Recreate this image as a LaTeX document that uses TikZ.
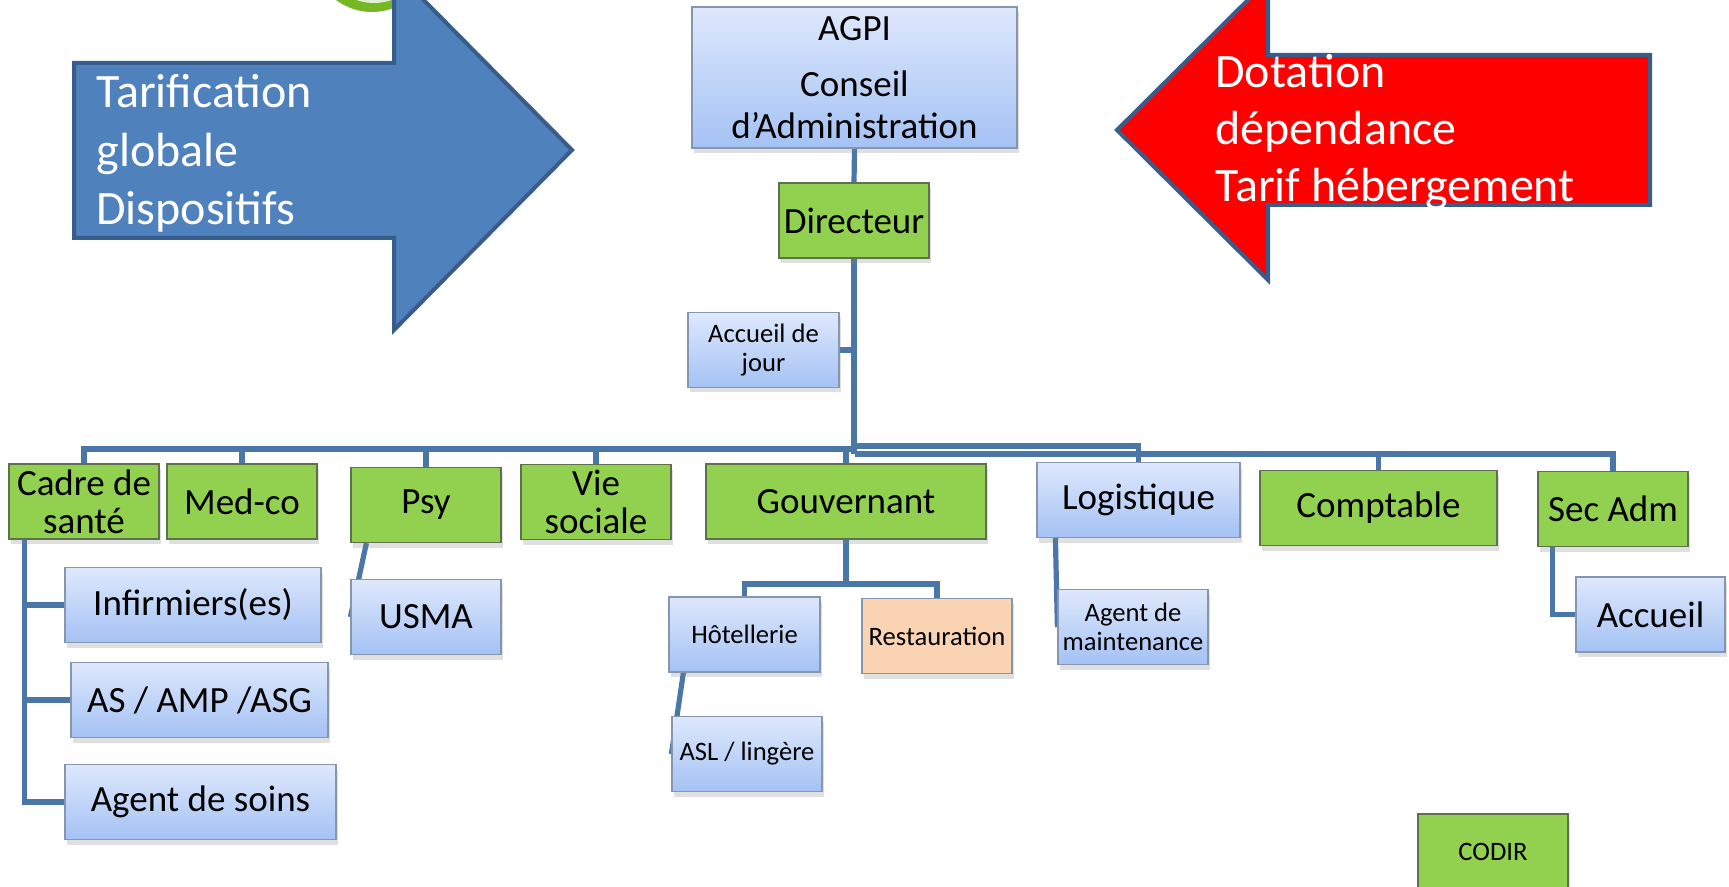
\documentclass[tikz,border=0pt]{standalone}
\usepackage{fontspec}
\setmainfont{Carlito}
\usepackage{tikz}
\usetikzlibrary{positioning, shadows}

\pgfdeclarelayer{background}
\pgfsetlayers{background,main}

\definecolor{orgline}{RGB}{74,118,168}
\definecolor{greenfill}{RGB}{146,208,80}
\definecolor{greenedge}{RGB}{95,112,78}
\definecolor{bluetop}{RGB}{222,232,252}
\definecolor{bluebot}{RGB}{164,194,244}
\definecolor{blueedge}{RGB}{135,150,175}
\definecolor{peach}{RGB}{250,211,178}
\definecolor{arrowblue}{RGB}{79,129,189}
\definecolor{arrowedge}{RGB}{56,93,138}
\definecolor{ringgreen}{RGB}{118,184,36}
\definecolor{ringin}{RGB}{225,238,215}

\begin{document}
\begin{tikzpicture}[x=0.5pt,y=0.5pt,yscale=-1,xscale=1,
    box/.style={rectangle, inner sep=0pt, align=center, minimum height=37.5pt,
        drop shadow={shadow xshift=1pt, shadow yshift=-2.5pt, opacity=0.25}},
    greenbox/.style={box, draw=greenedge, fill=greenfill, line width=0.6pt},
    bluebox/.style={box, draw=blueedge, top color=bluetop, bottom color=bluebot, line width=0.6pt},
    peachbox/.style={box, draw=blueedge, fill=peach, line width=0.6pt},
    bigtxt/.style={font=\fontsize{18.5}{19}\selectfont},
    smalltxt/.style={font=\fontsize{13.3}{14.5}\selectfont},
    link/.style={draw=orgline, line width=2.6pt},
    arrowtxt/.style={anchor=base west, inner sep=0pt, text=white, font=\fontsize{24}{29}\selectfont}]
    \useasboundingbox (0,0) rectangle (1729,887);

    %Shape: Circle (behind the arrow)
    \fill [ringgreen] (372,-48) circle (60);
    \fill [ringin] (374,-50) circle (53);

    %Shape: Right Arrow
    \draw [fill=arrowblue, draw=arrowedge, line width=2pt] (74,63) -- (394,63) -- (394,-30) -- (572,150) -- (394,330) -- (394,238) -- (74,238) -- cycle;
    %Shape: Left Arrow
    \draw [fill=red, draw=arrowedge, line width=2pt] (1117,130) -- (1268,-20) -- (1268,55) -- (1650,55) -- (1650,205) -- (1268,205) -- (1268,280) -- cycle;

    % Text Node
    \node [arrowtxt] (tarif) at (96,108) {Tarification};
    \node [arrowtxt] (glob) at (96,167) {globale};
    \node [arrowtxt] (dispo) at (96,225) {Dispositifs};
    % Text Node
    \node [arrowtxt] (dota) at (1215,88) {Dotation};
    \node [arrowtxt] (depen) at (1215,145) {dépendance};
    \node [arrowtxt] (heber) at (1215,202) {Tarif hébergement};

    % Boxes
    \node [bluebox, font=\fontsize{18.5}{21}\selectfont, minimum width=162.5pt, minimum height=70.5pt] (agpi) at (854.5,77.5) {AGPI\\[7pt]Conseil\\d’Administration};
    \node [greenbox, bigtxt, minimum width=75pt] (dir) at (854,220.5) {Directeur};
    \node [bluebox, smalltxt, minimum width=75.5pt] (jour) at (763.5,350) {Accueil de\\jour};

    \node [greenbox, bigtxt, minimum width=75pt] (cadre) at (84,501.5) {Cadre de\\santé};
    \node [greenbox, bigtxt, minimum width=75pt] (medco) at (242,501.5) {Med-co};
    \node [greenbox, bigtxt, minimum width=75pt] (psy) at (426,505) {Psy};
    \node [greenbox, bigtxt, minimum width=75pt] (vie) at (596,502) {Vie\\sociale};
    \node [greenbox, bigtxt, minimum width=140pt] (gouv) at (846,501.5) {Gouvernant};
    \node [bluebox, bigtxt, minimum width=101.5pt] (logist) at (1138.5,500) {Logistique};
    \node [greenbox, bigtxt, minimum width=118.5pt] (compta) at (1378.5,508) {Comptable};
    \node [greenbox, bigtxt, minimum width=75pt] (secadm) at (1613,509) {Sec Adm};

    \node [bluebox, bigtxt, minimum width=128pt] (infirm) at (193,605) {Infirmiers(es)};
    \node [bluebox, bigtxt, minimum width=128.5pt] (asamp) at (199.5,700) {AS / AMP /ASG};
    \node [bluebox, bigtxt, minimum width=135.5pt] (soins) at (200.5,802) {Agent de soins};
    \node [bluebox, bigtxt, minimum width=75pt] (usma) at (426,617) {USMA};
    \node [bluebox, smalltxt, minimum width=75.5pt] (hotel) at (744.5,634.5) {Hôtellerie};
    \node [peachbox, smalltxt, minimum width=75pt] (resto) at (937,636) {Restauration};
    \node [bluebox, smalltxt, minimum width=75pt] (asl) at (747,754) {ASL / lingère};
    \node [bluebox, smalltxt, minimum width=75pt] (maint) at (1133,627) {Agent de\\maintenance};
    \node [bluebox, bigtxt, minimum width=74.5pt] (accueil) at (1650.5,614.5) {Accueil};
    \node [greenbox, smalltxt, minimum width=75pt] (codir) at (1493,851.5) {CODIR};

    % Connectors
    \coordinate (busl) at (855,449);
    \coordinate (busa) at (855,446);
    \coordinate (busb) at (855,454);
    \coordinate (gfork) at (846,584);
    \coordinate (spine) at ([xshift=8pt]cadre.south west);
    \begin{pgfonlayer}{background}
        \draw [link] (agpi.south) -- (dir.north);
        \draw [link] (dir.south) -- (dir.south |- busb);
        \draw [link] (jour.east) -- (jour.east -| dir.south);
        %Straight Lines
        \draw [link] (cadre.north) |- (busl);
        \draw [link] (medco.north) -- (medco.north |- busl);
        \draw [link] (psy.north) -- (psy.north |- busl);
        \draw [link] (vie.north) -- (vie.north |- busl);
        \draw [link] (gouv.north) -- (gouv.north |- busl);
        \draw [link] (logist.north) |- (busa);
        \draw [link] (secadm.north) |- (busb);
        \draw [link] (compta.north) -- (compta.north |- busb);
        %Straight Lines
        \draw [link] (spine) |- (soins.west);
        \draw [link] (infirm.west) -- (infirm.west -| spine);
        \draw [link] (asamp.west) -- (asamp.west -| spine);
        \draw [link] ([xshift=8pt]psy.south west) -- (usma.west);
        \draw [link] (gouv.south) -- (gfork);
        \draw [link] (hotel.north) |- (gfork) -| (resto.north);
        \draw [link] ([xshift=7.5pt]hotel.south west) -- (asl.west);
        \draw [link] ([xshift=9.5pt]logist.south west) -- (maint.west);
        \draw [link] ([xshift=7.5pt]secadm.south west) |- (accueil.west);
    \end{pgfonlayer}

\end{tikzpicture}
\end{document}
